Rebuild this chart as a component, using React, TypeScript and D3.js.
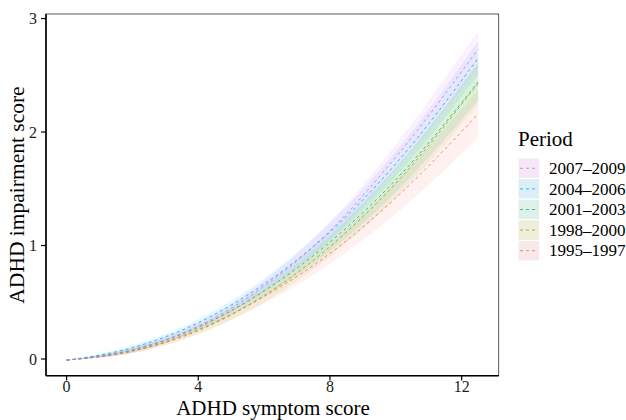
import React from 'react'
import * as d3 from 'd3'

// symptom score knots
const xKnots = [0, 2, 4, 6, 8, 10, 12.5]

// periods in factor order (legend shows them reversed)
const periods = ['1995–1997', '1998–2000', '2001–2003', '2004–2006', '2007–2009']
const colors = ['#F8766D', '#A3A500', '#00BF7D', '#00B0F6', '#E76BF3']

// fitted impairment per period
const fit1995 = [-0.01, 0.07, 0.26, 0.55, 0.93, 1.42, 2.16]
const fit1998 = [-0.01, 0.07, 0.25, 0.56, 0.99, 1.55, 2.43]
const fit2001 = [-0.01, 0.08, 0.28, 0.6, 1.03, 1.58, 2.44]
const fit2004 = [-0.01, 0.1, 0.32, 0.66, 1.12, 1.72, 2.65]
const fit2007 = [-0.01, 0.08, 0.29, 0.64, 1.13, 1.78, 2.73]

// half width of the confidence band
const band1995 = [0, 0.02, 0.035, 0.06, 0.09, 0.14, 0.21]
const band1998 = [0, 0.02, 0.035, 0.06, 0.09, 0.13, 0.19]
const band2001 = [0, 0.02, 0.03, 0.05, 0.08, 0.11, 0.16]
const band2004 = [0, 0.02, 0.03, 0.05, 0.08, 0.11, 0.15]
const band2007 = [0, 0.02, 0.03, 0.05, 0.08, 0.11, 0.16]

const fits = [fit1995, fit1998, fit2001, fit2004, fit2007]
const bands = [band1995, band1998, band2001, band2004, band2007]

const xTicks = [0, 4, 8, 12]
const yTicks = [0, 1, 2, 3]

const W = 626
const H = 420
const font = '"Liberation Serif", "Times New Roman", serif'

export default function App() {
  const x = d3.scaleLinear().domain([-0.625, 13.125]).range([46, 498.7])
  const y = d3.scaleLinear().domain([-0.147, 3.04]).range([375.7, 14])

  const series = periods.map((p, i) =>
    xKnots.map((k, j) => ({ x: k, y: fits[i][j], lo: fits[i][j] - bands[i][j], hi: fits[i][j] + bands[i][j] }))
  )

  const area = d3.area<any>()
    .x(d => x(d.x))
    .y0(d => y(d.lo))
    .y1(d => y(d.hi))
    .curve(d3.curveMonotoneX)
  const line = d3.line<any>()
    .x(d => x(d.x))
    .y(d => y(d.y))
    .curve(d3.curveMonotoneX)

  const legendOrder = periods.map((p, i) => i).reverse()

  return (
    <svg width={W} height={H} style={{ position: 'absolute', left: 0, top: 0, fontFamily: font }}>
      <rect width={W} height={H} fill="#fff" />
      {series.map((s, i) => (
        <path key={'a' + i} d={area(s)} fill={colors[i]} fillOpacity={0.1} />
      ))}
      {series.map((s, i) => (
        <path key={'l' + i} d={line(s)} fill="none" stroke={colors[i]} strokeWidth={1}
          strokeDasharray="3,3" strokeOpacity={0.85} />
      ))}

      {/* panel border */}
      <rect x={46} y={14} width={498.7 - 46} height={375.7 - 14} fill="none" stroke="#333" strokeWidth={0.8} />
      <line x1={46} x2={498.7} y1={375.7} y2={375.7} stroke="#000" strokeWidth={1.6} />
      <line x1={46} x2={46} y1={14} y2={375.7} stroke="#000" strokeWidth={1.6} />

      {xTicks.map(t => (
        <g key={'xt' + t}>
          <line x1={x(t)} x2={x(t)} y1={375.7} y2={380.5} stroke="#000" strokeWidth={1.2} />
          <text x={x(t)} y={392} textAnchor="middle" fontSize={16} fill="#222">{t}</text>
        </g>
      ))}
      {yTicks.map(t => (
        <g key={'yt' + t}>
          <line x1={41} x2={46} y1={y(t)} y2={y(t)} stroke="#000" strokeWidth={1.2} />
          <text x={37} y={y(t) + 5.5} textAnchor="end" fontSize={16} fill="#222">{t}</text>
        </g>
      ))}

      <text x={273} y={414.5} textAnchor="middle" fontSize={21} fill="#000">ADHD symptom score</text>
      <text transform={`translate(24,195) rotate(-90)`} textAnchor="middle" fontSize={21.5} fill="#000">
        ADHD impairment score
      </text>

      {/* legend */}
      <text x={518} y={145.5} fontSize={21} fill="#000">Period</text>
      {legendOrder.map((i, r) => {
        const top = 158 + r * 20.6
        return (
          <g key={'lg' + i}>
            <rect x={518} y={top} width={21.5} height={20.6} fill="#f6f6f6" stroke="#fff" strokeWidth={1} />
            <rect x={518.5} y={top + 0.5} width={20.5} height={19.6} fill={colors[i]} fillOpacity={0.1} />
            <line x1={520} x2={537.5} y1={top + 10.3} y2={top + 10.3} stroke={colors[i]} strokeWidth={1}
              strokeDasharray="3,3" strokeOpacity={0.85} />
            <text x={549} y={top + 16} fontSize={17} fill="#000">{periods[i]}</text>
          </g>
        )
      })}
    </svg>
  )
}
